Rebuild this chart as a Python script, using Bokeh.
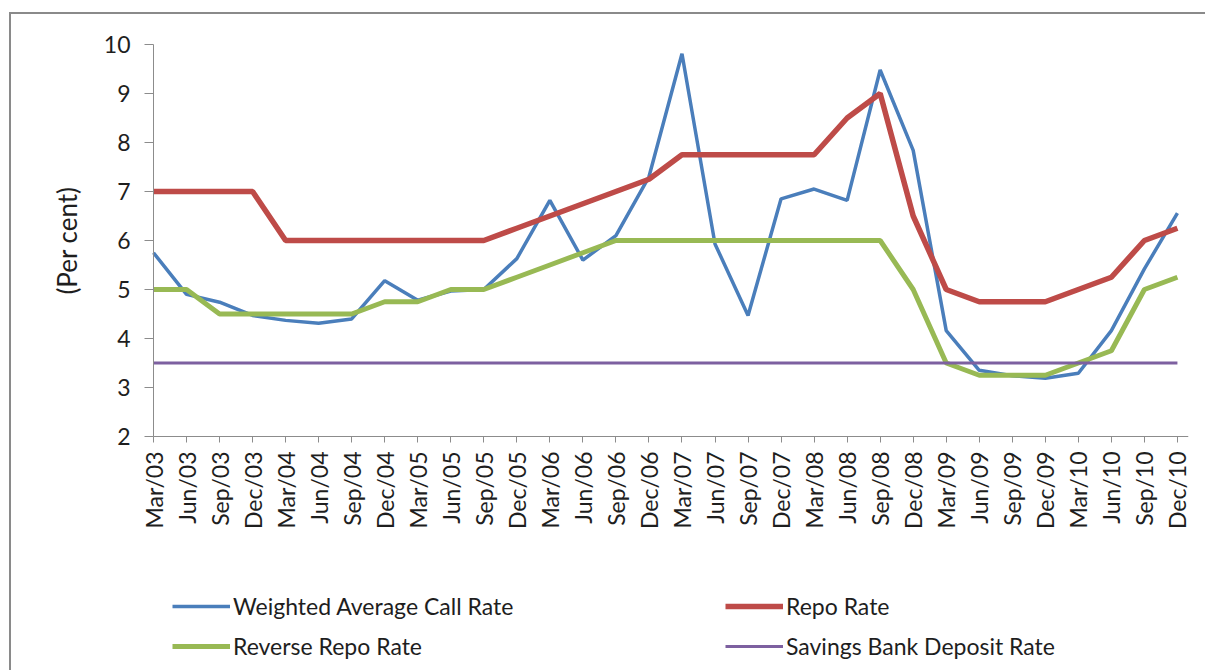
from bokeh.plotting import figure
from bokeh.models import Range1d, FixedTicker, Legend, LegendItem
from bokeh.embed import file_html
from bokeh.resources import INLINE
import math

quarters = ["Mar/03", "Jun/03", "Sep/03", "Dec/03", "Mar/04", "Jun/04", "Sep/04", "Dec/04",
            "Mar/05", "Jun/05", "Sep/05", "Dec/05", "Mar/06", "Jun/06", "Sep/06", "Dec/06",
            "Mar/07", "Jun/07", "Sep/07", "Dec/07", "Mar/08", "Jun/08", "Sep/08", "Dec/08",
            "Mar/09", "Jun/09", "Sep/09", "Dec/09", "Mar/10", "Jun/10", "Sep/10", "Dec/10"]

call_rate = [5.75, 4.90, 4.74, 4.47, 4.37, 4.31, 4.40, 5.18, 4.78, 4.97, 5.00, 5.63,
             6.82, 5.60, 6.10, 7.30, 9.81, 5.93, 4.47, 6.85, 7.05, 6.82, 9.48, 7.84,
             4.16, 3.35, 3.24, 3.19, 3.29, 4.16, 5.42, 6.56]
repo_rate = [7.00, 7.00, 7.00, 7.00, 6.00, 6.00, 6.00, 6.00, 6.00, 6.00, 6.00, 6.25,
             6.50, 6.75, 7.00, 7.25, 7.75, 7.75, 7.75, 7.75, 7.75, 8.50, 9.00, 6.50,
             5.00, 4.75, 4.75, 4.75, 5.00, 5.25, 6.00, 6.25]
reverse_repo = [5.00, 5.00, 4.50, 4.50, 4.50, 4.50, 4.50, 4.75, 4.75, 5.00, 5.00, 5.25,
                5.50, 5.75, 6.00, 6.00, 6.00, 6.00, 6.00, 6.00, 6.00, 6.00, 6.00, 5.00,
                3.50, 3.25, 3.25, 3.25, 3.50, 3.75, 5.00, 5.25]
savings_rate = [3.50, 3.50, 3.50, 3.50, 3.50, 3.50, 3.50, 3.50, 3.50, 3.50, 3.50, 3.50,
                3.50, 3.50, 3.50, 3.50, 3.50, 3.50, 3.50, 3.50, 3.50, 3.50, 3.50, 3.50,
                3.50, 3.50, 3.50, 3.50, 3.50, 3.50, 3.50, 3.50]

series_names = ["Weighted Average Call Rate", "Repo Rate", "Reverse Repo Rate",
                "Savings Bank Deposit Rate"]
y_ticks = [2, 3, 4, 5, 6, 7, 8, 9, 10]
y_min, y_max = 2, 10

FONT = "Lato"
TXT = "#1e1e1e"
AX = "#8c8c8c"

xs = list(range(len(quarters)))

# The plotting frame fills the whole canvas so that texts placed outside the
# axes (tick labels, legends) are never clipped; both axes are pinned at (0, 2).
PX_X = 33.03          # pixels per category
PX_Y = 49.0           # pixels per percentage point
x_start, x_end = -142 / PX_X, 1035 / PX_X
y_start, y_end = y_max - 626 / PX_Y, y_max + 30 / PX_Y

p = figure(width=1194, height=656, output_backend="svg", toolbar_location=None,
           x_range=Range1d(x_start, x_end), y_range=Range1d(y_start, y_end),
           min_border_left=0, min_border_right=17, min_border_top=0, min_border_bottom=0)
p.margin = (14, 0, 0, 11)
p.styles = {"outline": "2px solid #8a8a8a"}
p.background_fill_color = "white"
p.border_fill_color = "white"
p.outline_line_color = None
p.xgrid.visible = False
p.ygrid.visible = False

r1 = p.line(xs, call_rate, line_color="#4A7EBB", line_width=3.5)
r2 = p.line(xs, repo_rate, line_color="#BE4B48", line_width=5.5)
r3 = p.line(xs, reverse_repo, line_color="#98B954", line_width=5)
r4 = p.line(xs, savings_rate, line_color="#7D60A0", line_width=3)

# axes
p.yaxis.fixed_location = 0
p.yaxis.ticker = FixedTicker(ticks=y_ticks)
p.yaxis.bounds = (y_min, y_max)
p.yaxis.axis_line_color = AX
p.yaxis.major_tick_line_color = AX
p.yaxis.major_tick_out = 9
p.yaxis.major_tick_in = 0
p.yaxis.minor_tick_line_color = None
p.yaxis.major_label_text_font = FONT
p.yaxis.major_label_text_font_size = "23px"
p.yaxis.major_label_text_color = TXT
p.yaxis.major_label_standoff = 14
p.yaxis.axis_label = "(Per cent)"
p.yaxis.axis_label_text_font = FONT
p.yaxis.axis_label_text_font_size = "26px"
p.yaxis.axis_label_text_font_style = "normal"
p.yaxis.axis_label_text_color = TXT
p.yaxis.axis_label_standoff = 18

p.xaxis.fixed_location = y_min
p.xaxis.bounds = (0, x_end)
p.xaxis.ticker = FixedTicker(ticks=xs)
p.xaxis.major_label_overrides = {i: q for i, q in enumerate(quarters)}
p.xaxis.major_label_orientation = math.pi / 2
p.xaxis.axis_line_color = AX
p.xaxis.major_tick_line_color = AX
p.xaxis.major_tick_out = 6
p.xaxis.major_tick_in = 0
p.xaxis.minor_tick_line_color = None
p.xaxis.major_label_text_font = FONT
p.xaxis.major_label_text_font_size = "23px"
p.xaxis.major_label_text_color = TXT
p.xaxis.major_label_standoff = 9


def make_legend(items, loc):
    lg = Legend(items=items, location=loc, orientation="vertical")
    lg.label_text_font = FONT
    lg.label_text_font_size = "23px"
    lg.label_text_color = TXT
    lg.glyph_width = 58
    lg.glyph_height = 20
    lg.label_standoff = 3
    lg.spacing = 12
    lg.padding = 0
    lg.margin = 0
    lg.border_line_alpha = 0
    lg.background_fill_alpha = 0
    return lg


leg_a = make_legend([LegendItem(label=series_names[0], renderers=[r1]),
                     LegendItem(label=series_names[2], renderers=[r3])], (161, 10))
leg_b = make_legend([LegendItem(label=series_names[1], renderers=[r2]),
                     LegendItem(label=series_names[3], renderers=[r4])], (714, 10))
p.add_layout(leg_a)
p.add_layout(leg_b)

open("out.html", "w").write(file_html(p, INLINE))
